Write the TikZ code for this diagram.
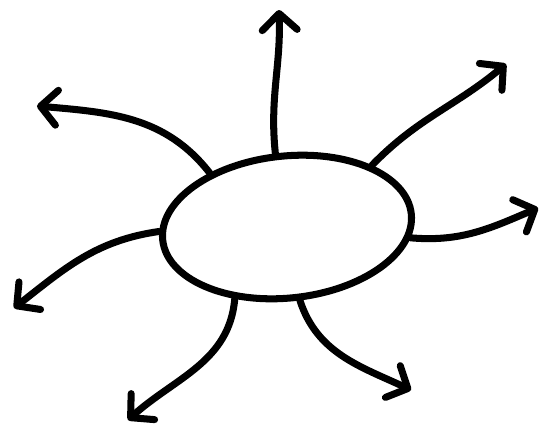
\documentclass[tikz,border=0pt]{standalone}
\usetikzlibrary{shapes.geometric,arrows.meta}

\begin{document}
\begin{tikzpicture}[
  x=0.02cm, y=-0.02cm,
  blob/.style={ellipse, draw, line width=4pt, minimum width=5cm, minimum height=2.84cm, inner sep=0pt},
  arrow/.style={-{Straight Barb[length=3.3mm, width=7mm, round]}, line width=4pt, line cap=round},
]
\useasboundingbox (0,0) rectangle (544,437);

% === CENTRE ===
\node[blob, rotate=6] (hub) at (287,227) {};

% === ARROW ENDS ===
\coordinate (tn) at (279,10);
\coordinate (tne) at (506,64);
\coordinate (te) at (538,208);
\coordinate (tse) at (411,390);
\coordinate (ts) at (128,420);
\coordinate (tsw) at (14,308);
\coordinate (tnw) at (37,106);

\draw[arrow] (hub.93) to[out=96, in=-88] (tn);
\draw[arrow] (hub.30) to[out=46, in=-140] (tne);
\draw[arrow] (hub.-11) to[out=-5, in=203] (te);
\draw[arrow] (hub.-86) to[out=-72, in=155] (tse);
\draw[arrow] (hub.-132) to[out=-95, in=42] (ts);
\draw[arrow] (hub.176) to[out=188, in=38] (tsw);
\draw[arrow] (hub.139) to[out=128, in=-5] (tnw);
\end{tikzpicture}
\end{document}
